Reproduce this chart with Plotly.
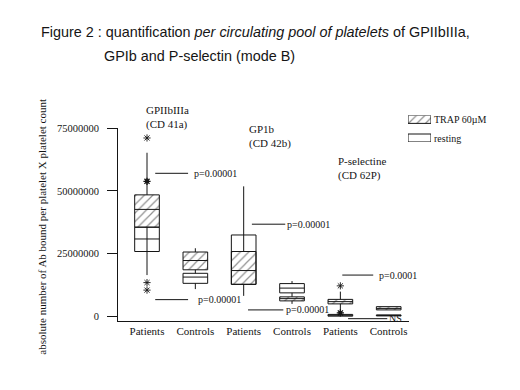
import plotly.graph_objects as go

W, H = 520, 390
M = 1e6

# ---------------- data (values in millions) ----------------
positions = [0, 1, 2, 3, 4, 5]
tick_labels = ["Patients", "Controls", "Patients", "Controls", "Patients", "Controls"]
group_labels = ["GPIIbIIIa<br>(CD 41a)", "GP1b<br>(CD 42b)", "P-selectine<br>(CD 62P)"]
y_tick_values = [0, 25, 50, 75]

# TRAP 60µM (hatched boxes)
trap_q1 = [35.5, 18.5, 12.7, 6.1, 4.9, 2.5]
trap_median = [42.6, 22.2, 18.2, 7.0, 5.8, 3.1]
trap_q3 = [48.4, 25.6, 25.8, 7.7, 6.7, 3.8]
trap_low = [16.4, 17.1, 8.1, 4.9, 0.7, 2.5]
trap_high = [65.2, 27.1, 51.8, 9.3, 9.8, 3.8]

# resting (open boxes)
rest_q1 = [25.8, 13.1, 12.7, 9.3, 0.0, 0.1]
rest_median = [30.8, 15.6, 25.8, 11.2, 0.35, 0.3]
rest_q3 = [35.5, 17.1, 32.4, 13.0, 0.7, 0.5]
rest_low = [25.8, 10.8, 12.7, 9.3, 0.0, 0.1]
rest_high = [35.5, 17.1, 32.4, 14.0, 0.7, 0.5]

# outliers
star_x = [0, 0, 0, 4]
star_y = [71.1, 13.4, 10.4, 12.1]
dot_x = [0, 4]
dot_y = [53.8, 1.3]

# p-values of each comparison
p_labels = ["p=0.00001", "p=0.00001", "p=0.00001", "p=0.00001", "p=0.0001", "NS"]
p_levels = [57.0, 6.6, 36.7, 2.5, 16.4, -1.0]

legend_names = ["TRAP 60µM", "resting"]

# ---------------- layout helpers ----------------
# the page adds an 8 px body margin, so the figure is drawn 8 px right/down
OFF = 8


def m(vals):
    return [v * M for v in vals]


def px(xp):
    return (xp - OFF) / W


def py(yp):
    return 1 - (yp - OFF) / H


INK = "#151515"
SERIF = "Liberation Serif, Times New Roman, serif"
SANS = "Liberation Sans, Arial, sans-serif"
BOXW = 0.51

hatch = dict(shape="/", fgcolor="#222", bgcolor="white", size=6, solidity=0.2)

fig = go.Figure()

# hatched fill of TRAP boxes
fig.add_trace(go.Bar(
    x=positions, base=m(trap_q1),
    y=[(a - b) * M for a, b in zip(trap_q3, trap_q1)],
    width=BOXW, marker=dict(color="white", line=dict(width=0), pattern=hatch),
    showlegend=False, hoverinfo="skip"))

# resting boxes
fig.add_trace(go.Box(
    x=positions, q1=m(rest_q1), median=m(rest_median), q3=m(rest_q3),
    lowerfence=m(rest_low), upperfence=m(rest_high),
    width=BOXW, whiskerwidth=0, fillcolor="rgba(0,0,0,0)",
    line=dict(color=INK, width=1), boxpoints=False, showlegend=False,
    hoverinfo="skip"))

# TRAP boxes (outline, median, whiskers)
fig.add_trace(go.Box(
    x=positions, q1=m(trap_q1), median=m(trap_median), q3=m(trap_q3),
    lowerfence=m(trap_low), upperfence=m(trap_high),
    width=BOXW, whiskerwidth=0, fillcolor="rgba(0,0,0,0)",
    line=dict(color=INK, width=1), boxpoints=False, showlegend=False,
    hoverinfo="skip"))

# outliers
fig.add_trace(go.Scatter(
    x=star_x, y=m(star_y), mode="markers",
    marker=dict(symbol="asterisk-open", size=6, color=INK, line=dict(color=INK, width=0.9)),
    showlegend=False, hoverinfo="skip"))
fig.add_trace(go.Scatter(
    x=dot_x, y=m(dot_y), mode="markers",
    marker=dict(symbol="asterisk-open", size=6, color=INK, line=dict(color=INK, width=1.3)),
    showlegend=False, hoverinfo="skip"))
fig.add_trace(go.Scatter(
    x=dot_x, y=m(dot_y), mode="markers",
    marker=dict(symbol="circle", size=4, color=INK, line=dict(width=0)),
    showlegend=False, hoverinfo="skip"))

# p-value lines and labels
p_line_x = [(0.17, 0.85), (0.17, 0.85), (2.17, 2.86), (2.09, 2.82), (4.04, 4.68), (4.16, 4.97)]
p_text_x = [0.93, 1.01, 2.86, 2.84, 4.76, 4.96]
for (x0, x1), lvl, lab, tx in zip(p_line_x, p_levels, p_labels, p_text_x):
    fig.add_trace(go.Scatter(
        x=[x0, x1], y=[lvl * M, lvl * M], mode="lines",
        line=dict(color=INK, width=1), showlegend=False, hoverinfo="skip",
        cliponaxis=False))
    fig.add_annotation(x=tx, y=lvl * M, xref="x", yref="y", text=lab,
                       showarrow=False, xanchor="left", yanchor="middle",
                       font=dict(family=SERIF, size=10, color=INK))

# legend swatches (own small axes)
fig.add_trace(go.Bar(
    x=[0.5], y=[0.3], base=[0.7], width=[1], xaxis="x2", yaxis="y2",
    marker=dict(color="white", line=dict(color=INK, width=1), pattern=hatch),
    showlegend=False, hoverinfo="skip", cliponaxis=False))
fig.add_trace(go.Bar(
    x=[0.5], y=[0.3], base=[0.0], width=[1], xaxis="x2", yaxis="y2",
    marker=dict(color="white", line=dict(color=INK, width=1)),
    showlegend=False, hoverinfo="skip", cliponaxis=False))
for name, yc in zip(legend_names, [116, 135]):
    fig.add_annotation(x=px(432), y=py(yc), xref="paper", yref="paper",
                       text=name, showarrow=False, xanchor="left",
                       yanchor="middle", font=dict(family=SERIF, size=10, color=INK))

# group labels
for lab, (gx, gy) in zip(group_labels, [(144, 114), (247, 133), (336, 166)]):
    fig.add_annotation(x=px(gx), y=py(gy), xref="paper", yref="paper",
                       text=lab, showarrow=False, xanchor="left", yanchor="middle",
                       align="left", font=dict(family=SERIF, size=11, color=INK))

# title
fig.add_annotation(x=px(39), y=py(27), xref="paper", yref="paper",
                   text="Figure 2 : quantification <i>per circulating pool of platelets</i> of GPIIbIIIa,",
                   showarrow=False, xanchor="left", yanchor="middle",
                   font=dict(family=SANS, size=14.4, color=INK))
fig.add_annotation(x=px(102), y=py(52), xref="paper", yref="paper",
                   text="GPIb and P-selectin (mode B)",
                   showarrow=False, xanchor="left", yanchor="middle",
                   font=dict(family=SANS, size=14.4, color=INK))

# y-axis title
fig.add_annotation(x=px(42), y=py(225), xref="paper", yref="paper",
                   text="absolute number of Ab bound per platelet X platelet count",
                   textangle=-90, showarrow=False, xanchor="center", yanchor="middle",
                   font=dict(family=SERIF, size=11, color=INK))

fig.update_layout(
    width=W, height=H, autosize=False,
    margin=dict(l=0, r=0, t=0, b=0),
    paper_bgcolor="white", plot_bgcolor="white",
    barmode="overlay", boxmode="overlay",
    showlegend=False,
    xaxis=dict(domain=[px(118), px(409)], range=[-0.6, 5.42],
               tickmode="array", tickvals=positions, ticktext=tick_labels,
               showline=True, linecolor=INK, linewidth=1, ticks="",
               showgrid=False, zeroline=False,
               tickfont=dict(family=SERIF, size=11, color=INK)),
    yaxis=dict(domain=[py(321), py(125)], range=[-2.0 * M, 75 * M],
               tickmode="array", tickvals=m(y_tick_values),
               ticktext=[str(int(v * M)) for v in y_tick_values],
               showline=True, linecolor=INK, linewidth=1,
               ticks="outside", ticklen=10, tickwidth=1, tickcolor=INK,
               ticklabelstandoff=6,
               showgrid=False, zeroline=False,
               tickfont=dict(family=SERIF, size=10.5, color=INK)),
    xaxis2=dict(domain=[px(408), px(431)], range=[0, 1], visible=False,
                anchor="y2", fixedrange=True),
    yaxis2=dict(domain=[py(139), py(112)], range=[0, 1], visible=False,
                anchor="x2", fixedrange=True),
)

fig.write_html("out.html")
